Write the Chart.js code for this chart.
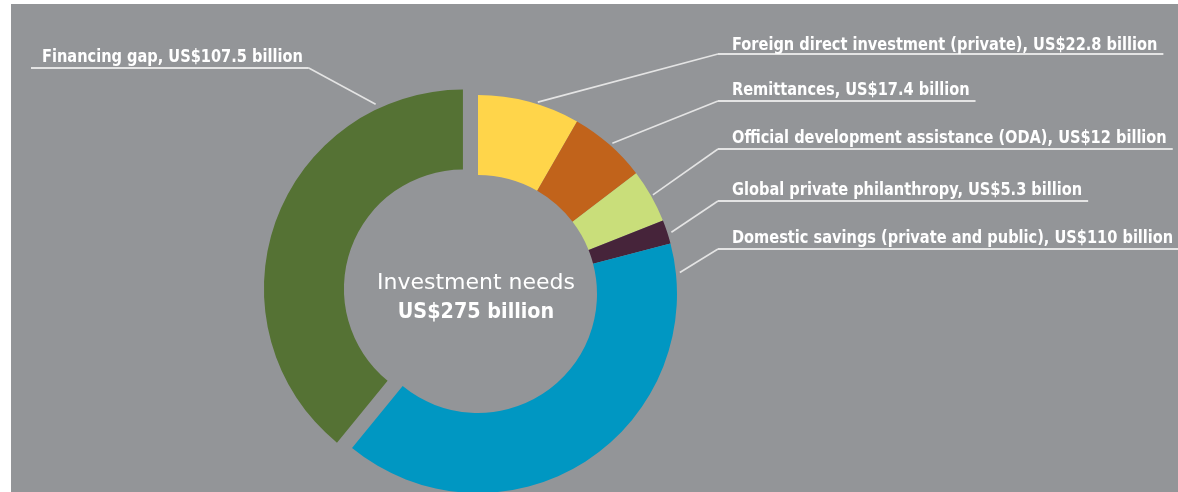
<!DOCTYPE html>
<html>
<head>
<meta charset="utf-8">
<script src="https://cdn.jsdelivr.net/npm/chart.js@4.4.1/dist/chart.umd.min.js"></script>
<style>
  html, body { margin: 0; padding: 0; background: #ffffff; overflow: hidden; }
  canvas { display: block; }
</style>
</head>
<body>
<canvas id="chart" width="1178" height="492"></canvas>
<script>
// Sources of financing, in US$ billion, clockwise from 12 o'clock
const categories = [
  'Foreign direct investment (private)',
  'Remittances',
  'Official development assistance (ODA)',
  'Global private philanthropy',
  'Domestic savings (private and public)',
  'Financing gap'
];
const values = [22.8, 17.4, 12, 5.3, 110, 107.5];
const colors = ['#FFD54A', '#C1631B', '#C9DE7A', '#46243A', '#0097C2', '#557234'];
const centerTitle = 'Investment needs';

const total = Math.round(values.reduce((a, b) => a + b, 0) * 10) / 10;
const money = v => 'US$' + v + ' billion';

// Label placement: text origin, underline height, where along the slice the leader meets it
const labelLayout = [
  { side: 'right', x: 732, y: 50,  uy: 54,  frac: 0.58, gap: 2 },
  { side: 'right', x: 732, y: 95,  uy: 101, frac: 0.52, gap: 3 },
  { side: 'right', x: 732, y: 143, uy: 149, frac: 0.50, gap: 2 },
  { side: 'right', x: 732, y: 195, uy: 201, frac: 0.57, gap: 4 },
  { side: 'right', x: 732, y: 243, uy: 249, frac: 0.06, gap: 4 },
  { side: 'left',  x: 42,  y: 62,  uy: 68,  frac: 0.82, gap: 5 }
];
const explodeIndex = 5;
const explodeDistance = 16;

const labelFont = 'bold 18px "DejaVu Sans Condensed", "DejaVu Sans", sans-serif';
const labelStretch = 0.9;     // narrow the condensed face a little further
const titleFont = '22px "DejaVu Sans", sans-serif';
const totalFont = 'bold 22px "DejaVu Sans Condensed", "DejaVu Sans", sans-serif';
const totalStretch = 0.97;
const lineColor = '#e4e4e4';

// Draw a string squeezed horizontally by `sx`, anchored at x per textAlign
function drawStretched(ctx, text, x, y, sx) {
  ctx.save();
  ctx.translate(x, y);
  ctx.scale(sx, 1);
  ctx.fillText(text, 0, 0);
  ctx.restore();
}

const panelPlugin = {
  id: 'panel',
  beforeDraw(chart) {
    const ctx = chart.ctx;
    ctx.save();
    ctx.fillStyle = '#939598';
    ctx.fillRect(11, 4, chart.width - 11, chart.height - 4);
    ctx.restore();
  }
};

// Pull the financing-gap slice outward along its own mid-angle
const explodePlugin = {
  id: 'explode',
  afterDatasetsUpdate(chart) {
    const arc = chart.getDatasetMeta(0).data[explodeIndex];
    if (!arc) return;
    const mid = (arc.startAngle + arc.endAngle) / 2;
    arc.x += Math.cos(mid) * explodeDistance;
    arc.y += Math.sin(mid) * explodeDistance;
  }
};

const labelPlugin = {
  id: 'leaderLabels',
  afterDatasetsDraw(chart) {
    const ctx = chart.ctx;
    const arcs = chart.getDatasetMeta(0).data;
    ctx.save();
    ctx.font = labelFont;
    ctx.textBaseline = 'alphabetic';
    ctx.textAlign = 'left';
    arcs.forEach((arc, i) => {
      const lay = labelLayout[i];
      const a = arc.startAngle + lay.frac * (arc.endAngle - arc.startAngle);
      const r = arc.outerRadius + lay.gap;
      const ax = arc.x + Math.cos(a) * r;
      const ay = arc.y + Math.sin(a) * r;
      const text = categories[i] + ', ' + money(values[i]);
      const w = ctx.measureText(text).width * labelStretch;
      const uStart = lay.side === 'right' ? lay.x - 14 : lay.x - 11;
      const uEnd = lay.x + w + 6;
      ctx.strokeStyle = lineColor;
      ctx.lineWidth = 2;
      ctx.beginPath();
      ctx.moveTo(uStart, lay.uy);
      ctx.lineTo(uEnd, lay.uy);
      ctx.stroke();
      ctx.lineWidth = 1.6;
      ctx.beginPath();
      ctx.moveTo(lay.side === 'right' ? uStart : uEnd, lay.uy);
      ctx.lineTo(ax, ay);
      ctx.stroke();
      ctx.fillStyle = '#ffffff';
      drawStretched(ctx, text, lay.x, lay.y, labelStretch);
    });

    // Total in the hole of the ring
    const cx = (chart.chartArea.left + chart.chartArea.right) / 2 - 2;
    const cy = (chart.chartArea.top + chart.chartArea.bottom) / 2;
    ctx.fillStyle = '#ffffff';
    ctx.textAlign = 'center';
    ctx.font = titleFont;
    ctx.fillText(centerTitle, cx, cy - 5);
    ctx.font = totalFont;
    drawStretched(ctx, money(total), cx, cy + 24, totalStretch);
    ctx.restore();
  }
};

new Chart(document.getElementById('chart'), {
  type: 'doughnut',
  data: {
    labels: categories,
    datasets: [{
      data: values,
      backgroundColor: colors,
      borderWidth: 0
    }]
  },
  options: {
    responsive: false,
    animation: false,
    events: [],
    radius: 199,
    cutout: '59.8%',
    rotation: 0,
    layout: { padding: { left: 0, right: 222, top: 96, bottom: 0 } },
    plugins: {
      legend: { display: false },
      tooltip: { enabled: false }
    }
  },
  plugins: [panelPlugin, explodePlugin, labelPlugin]
});
</script>
</body>
</html>
